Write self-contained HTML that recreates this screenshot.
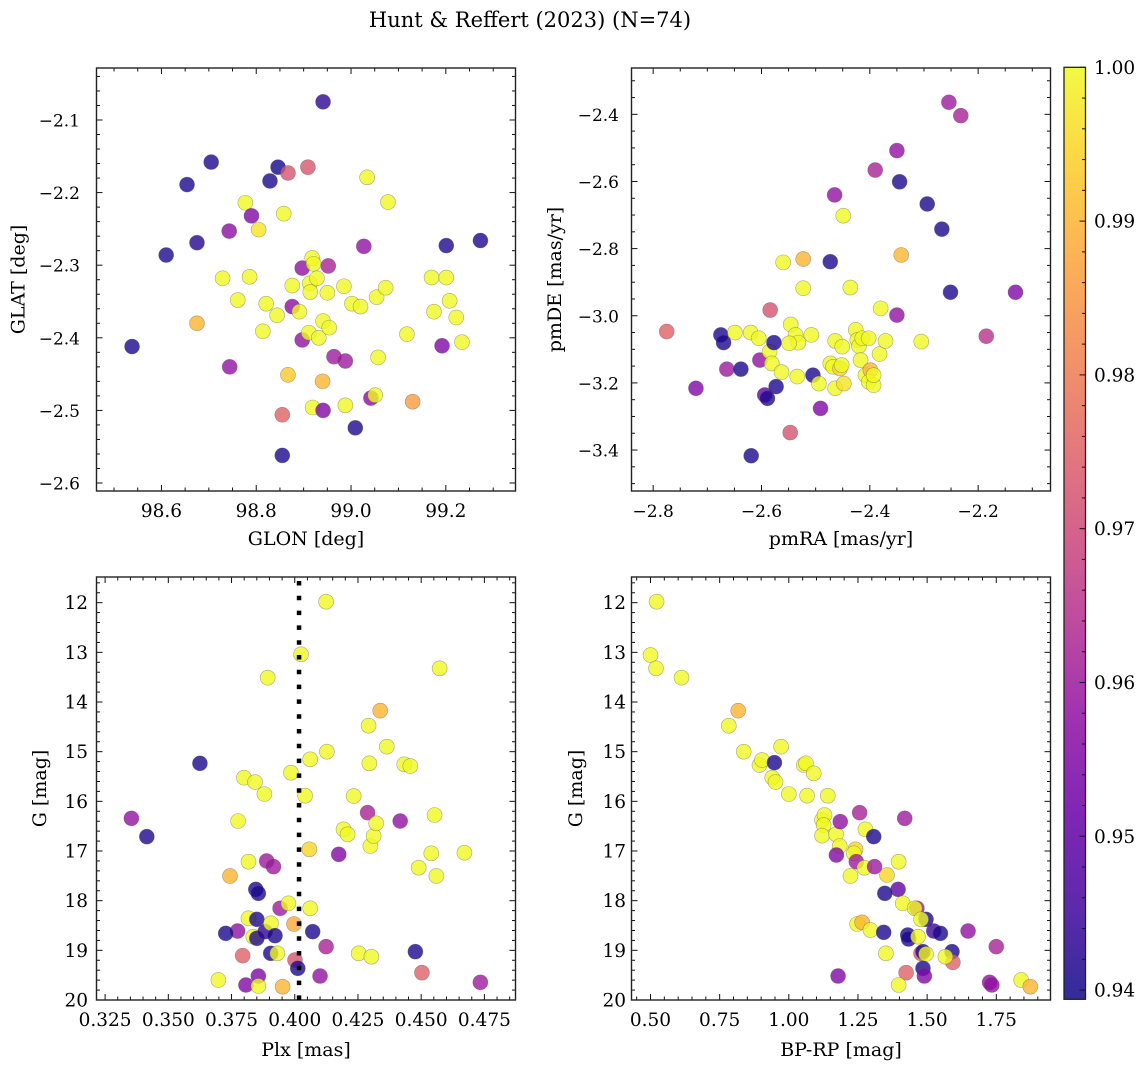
<!DOCTYPE html>
<html><head><meta charset="utf-8"><title>Hunt & Reffert (2023)</title>
<style>
html,body{margin:0;padding:0;background:#fff;}
svg{display:block;font-family:"DejaVu Serif","Liberation Serif",serif;}
</style></head>
<body>
<svg id="fig" width="1148" height="1067" viewBox="0 0 1148 1067" xmlns="http://www.w3.org/2000/svg">
<defs>
<linearGradient id="plasmaGrad" x1="0" y1="1" x2="0" y2="0">
<stop offset="0" stop-color="#0d0887"/><stop offset="0.1" stop-color="#41049d"/><stop offset="0.2" stop-color="#6a00a8"/><stop offset="0.3" stop-color="#8f0da4"/><stop offset="0.4" stop-color="#b12a90"/><stop offset="0.5" stop-color="#cc4778"/><stop offset="0.6" stop-color="#e16462"/><stop offset="0.7" stop-color="#f2844b"/><stop offset="0.8" stop-color="#fca636"/><stop offset="0.9" stop-color="#fcce25"/><stop offset="1" stop-color="#f0f921"/>
</linearGradient>
</defs>
<text x="530" y="27" text-anchor="middle" font-size="21">Hunt &amp; Reffert (2023) (N=74)</text>
</svg>
<script>
// ---------- data: panel 1 (GLON vs GLAT) ----------
const p1Glon = [98.538,98.610,98.654,98.675,98.705,98.675,98.729,98.743,98.744,98.761,98.777,98.786,98.790,98.805,98.814,98.821,98.829,98.846,98.844,98.858,98.855,98.855,98.867,98.867,98.876,98.876,98.891,98.897,98.897,98.909,98.911,98.913,98.914,98.918,98.921,98.928,98.919,98.932,98.941,98.940,98.941,98.941,98.950,98.952,98.954,98.964,98.985,98.988,98.988,99.002,99.009,99.020,99.027,99.034,99.042,99.051,99.054,99.057,99.073,99.078,99.118,99.130,99.170,99.175,99.192,99.201,99.201,99.208,99.222,99.234,99.273];
const p1Glat = [-2.412,-2.286,-2.189,-2.269,-2.158,-2.380,-2.318,-2.253,-2.440,-2.348,-2.214,-2.316,-2.232,-2.251,-2.391,-2.353,-2.184,-2.165,-2.369,-2.229,-2.506,-2.562,-2.173,-2.451,-2.328,-2.357,-2.364,-2.304,-2.403,-2.165,-2.393,-2.325,-2.337,-2.290,-2.298,-2.318,-2.496,-2.400,-2.075,-2.460,-2.377,-2.500,-2.338,-2.301,-2.386,-2.426,-2.329,-2.432,-2.493,-2.353,-2.524,-2.357,-2.274,-2.179,-2.483,-2.479,-2.344,-2.427,-2.331,-2.213,-2.395,-2.488,-2.317,-2.364,-2.411,-2.273,-2.317,-2.349,-2.372,-2.406,-2.266];
const p1Prob = [.941,.941,.941,.942,.941,.99,1,.957,.958,1,1,1,.955,.997,1,1,.941,.940,1,1,.975,.941,.972,.993,1,.957,1,.958,.958,.973,1,1,1,1,1,1,1,1,.943,.99,1,.955,1,.962,1,.960,1,.960,1,1,.941,1,.958,1,.957,1,1,1,1,1,1,.986,1,1,.955,.941,1,1,1,1,.941];
// ---------- data: panel 2 (pmRA vs pmDE) ----------
const p2PmRA = [-2.775,-2.721,-2.675,-2.670,-2.664,-2.649,-2.638,-2.620,-2.605,-2.619,-2.603,-2.594,-2.589,-2.584,-2.585,-2.581,-2.577,-2.573,-2.563,-2.560,-2.546,-2.537,-2.532,-2.549,-2.534,-2.523,-2.523,-2.547,-2.508,-2.505,-2.494,-2.491,-2.473,-2.465,-2.449,-2.436,-2.473,-2.468,-2.464,-2.464,-2.455,-2.452,-2.451,-2.448,-2.426,-2.423,-2.420,-2.417,-2.414,-2.402,-2.408,-2.399,-2.402,-2.393,-2.393,-2.380,-2.382,-2.371,-2.350,-2.390,-2.345,-2.350,-2.342,-2.305,-2.294,-2.267,-2.251,-2.254,-2.232,-2.185,-2.131];
const p2PmDE = [-3.047,-3.216,-3.057,-3.080,-3.159,-3.050,-3.159,-3.050,-3.067,-3.417,-3.132,-3.236,-3.246,-2.983,-3.107,-3.142,-3.080,-3.211,-3.168,-2.841,-3.026,-3.057,-3.080,-3.082,-3.181,-2.831,-2.918,-3.348,-3.057,-3.177,-3.202,-3.276,-2.839,-2.640,-2.702,-2.916,-3.142,-3.152,-3.075,-3.216,-3.157,-3.147,-3.092,-3.202,-3.042,-3.072,-3.090,-3.132,-3.067,-3.067,-3.177,-3.162,-3.197,-3.207,-3.177,-2.978,-3.114,-3.075,-2.508,-2.566,-2.601,-2.998,-2.819,-3.077,-2.667,-2.742,-2.930,-2.364,-2.404,-3.061,-2.930];
const p2Prob = [.975,.955,.941,.941,.960,1,.941,1,1,.941,.958,.950,.941,.972,1,1,.941,.941,1,1,1,1,1,1,1,.99,1,.972,1,.941,1,.955,.941,.958,1,1,1,1,1,1,.995,1,1,.997,1,1,1,1,1,1,1,.99,1,1,1,1,1,1,.958,.962,.941,.958,.99,1,.941,.941,.941,.960,.962,.965,.955];
// ---------- data: panel 3 (Plx vs G) ----------
const p3Plx = [0.3354,0.3415,0.3625,0.3698,0.3744,0.3776,0.3774,0.3727,0.3799,0.3794,0.3807,0.3817,0.3817,0.3836,0.3843,0.3846,0.3856,0.3850,0.3850,0.3856,0.3856,0.3880,0.3889,0.3883,0.3893,0.3916,0.3906,0.3905,0.3922,0.3931,0.3942,0.3952,0.3975,0.3985,0.3997,0.4001,0.4012,0.4025,0.4041,0.4058,0.4061,0.4061,0.4071,0.4100,0.4124,0.4127,0.4124,0.4174,0.4193,0.4209,0.4233,0.4253,0.4288,0.4292,0.4295,0.4299,0.4303,0.4312,0.4322,0.4338,0.4364,0.4417,0.4433,0.4457,0.4477,0.4490,0.4503,0.4540,0.4553,0.4560,0.4573,0.4671,0.4734];
const p3G = [16.342,16.711,15.235,19.597,17.503,16.396,18.611,18.658,15.523,19.107,19.698,17.215,18.356,18.725,15.611,17.772,17.852,18.376,18.758,19.517,19.718,15.852,17.201,18.624,13.510,17.315,18.456,19.060,18.705,19.060,18.154,19.732,18.054,15.423,18.470,19.195,19.362,13.040,15.886,16.966,15.154,18.154,18.624,19.517,11.98,15.000,18.926,17.067,16.564,16.664,15.893,19.060,16.228,14.477,15.235,16.899,19.128,16.698,16.443,14.174,14.899,16.396,15.255,15.289,19.027,17.336,19.450,17.047,16.275,17.503,13.322,17.034,19.644];
const p3Prob = [.958,.941,.941,1,.99,1,.958,.941,1,.975,.955,1,1,1,1,.941,.941,.941,.941,.955,1,1,.960,.943,1,.960,1,.941,.941,1,.960,.99,1,1,.988,.972,.941,1,1,.995,1,1,.941,.958,1,1,.962,.955,1,1,1,1,.962,1,1,1,1,1,1,.99,1,.958,1,1,.941,1,.975,1,1,1,1,1,.960];
// ---------- data: panel 4 (BP-RP vs G) ----------
const p4Bprp = [0.522,0.500,0.520,0.612,0.817,0.783,0.837,0.894,0.903,0.948,0.972,0.940,0.952,1.000,1.054,1.062,1.090,1.066,1.141,1.120,1.129,1.126,1.120,1.171,1.186,1.184,1.172,1.256,1.277,1.307,1.241,1.235,1.244,1.273,1.310,1.223,1.355,1.397,1.395,1.347,1.419,1.412,1.463,1.455,1.496,1.478,1.247,1.265,1.295,1.343,1.430,1.433,1.467,1.524,1.548,1.648,1.750,1.351,1.478,1.485,1.496,1.590,1.593,1.566,1.485,1.490,1.424,1.178,1.397,1.726,1.734,1.840,1.873];
const p4G = [11.98,13.054,13.322,13.510,14.174,14.477,15.000,15.268,15.168,15.221,14.899,15.523,15.611,15.852,15.268,15.235,15.436,15.886,15.886,16.376,16.275,16.477,16.691,16.664,16.409,16.899,17.081,16.228,16.564,16.711,16.966,17.047,17.215,17.336,17.315,17.503,17.483,17.215,17.772,17.852,16.342,18.054,18.154,18.154,18.376,18.376,18.470,18.436,18.591,18.638,18.691,18.772,18.725,18.611,18.658,18.611,18.926,19.060,19.060,19.027,19.074,19.027,19.242,19.128,19.362,19.517,19.450,19.517,19.698,19.644,19.698,19.597,19.732];
const p4Prob = [1,1,1,1,.99,1,1,1,1,.941,1,1,1,1,1,1,1,1,1,1,1,1,1,1,.958,1,.955,.962,1,.941,.995,1,.960,1,.960,1,.995,1,.950,.941,.960,1,.960,1,.941,1,1,.99,1,.941,.941,.941,1,.945,.941,.958,.962,1,.972,.941,1,.941,.975,1,.941,.955,.975,.955,1,.958,.958,1,.99];
// ---------- tick label arrays ----------
const p1XTicks = [98.6,98.8,99.0,99.2];
const p1XLabels = ["98.6","98.8","99.0","99.2"];
const p1YTicks = [-2.1,-2.2,-2.3,-2.4,-2.5,-2.6];
const p1YLabels = ["\u22122.1","\u22122.2","\u22122.3","\u22122.4","\u22122.5","\u22122.6"];
const p2XTicks = [-2.8,-2.6,-2.4,-2.2];
const p2XLabels = ["\u22122.8","\u22122.6","\u22122.4","\u22122.2"];
const p2YTicks = [-2.4,-2.6,-2.8,-3.0,-3.2,-3.4];
const p2YLabels = ["\u22122.4","\u22122.6","\u22122.8","\u22123.0","\u22123.2","\u22123.4"];
const p3XTicks = [0.325,0.350,0.375,0.400,0.425,0.450,0.475];
const p3XLabels = ["0.325","0.350","0.375","0.400","0.425","0.450","0.475"];
const gTicks = [12,13,14,15,16,17,18,19,20];
const gLabels = ["12","13","14","15","16","17","18","19","20"];
const p4XTicks = [0.5,0.75,1.0,1.25,1.5,1.75];
const p4XLabels = ["0.50","0.75","1.00","1.25","1.50","1.75"];
const cbTicks = [0.94,0.95,0.96,0.97,0.98,0.99,1.00];
const cbLabels = ["0.94","0.95","0.96","0.97","0.98","0.99","1.00"];
const plxLine = [0.4017];

const NS = "http://www.w3.org/2000/svg";
const svg = document.getElementById('fig');
const VMIN = 0.9394, VMAX = 1.0;
const stops = [[13,8,135],[65,4,157],[106,0,168],[143,13,164],[177,42,144],[204,71,120],[225,100,98],[242,132,75],[252,166,54],[252,206,37],[240,249,33]];
function plasma(v){
  let t = (v - VMIN)/(VMAX - VMIN); t = Math.max(0, Math.min(1, t));
  const f = t*10, i = Math.min(9, Math.floor(f)), r = f - i;
  const a = stops[i], b = stops[i+1];
  return 'rgb(' + [0,1,2].map(k => Math.round(a[k] + (b[k]-a[k])*r)).join(',') + ')';
}
function mk(tag, attrs, parent){
  const e = document.createElementNS(NS, tag);
  for (const k in attrs) e.setAttribute(k, attrs[k]);
  (parent || svg).appendChild(e);
  return e;
}
function fmtNum(v){ return Math.round(v*1e6)/1e6; }
function fsFor(s){ return s.indexOf('\u2212') >= 0 ? 17 : 18.5; }

function panel(name, box, xd, yd, xTicks, xLabels, xMinor, yTicks, yLabels, yMinor, xs, ys, cs, xTitle, yTitle, yLabEnd, yTitleX, xTitleY){
  const g = mk('g', {});
  
  
  const sx = v => box.x0 + (v - xd[0])/(xd[1]-xd[0])*(box.x1-box.x0);
  const sy = v => box.y0 + (v - yd[0])/(yd[1]-yd[0])*(box.y1-box.y0);
  const pg = mk('g', {}, g);
  
  
  for (let i = 0; i < xs.length; i++){
    const c = mk('circle', {cx: sx(xs[i]), cy: sy(ys[i]), r: 7.5, fill: plasma(cs[i]), 'fill-opacity': 0.8, stroke: '#555', 'stroke-opacity': 0.5, 'stroke-width': 0.6}, pg);
    
    
  }
  const tk = mk('g', {stroke: '#111', 'stroke-width': 1}, g);
  const xlo = Math.min(xd[0],xd[1]), xhi = Math.max(xd[0],xd[1]);
  const ylo = Math.min(yd[0],yd[1]), yhi = Math.max(yd[0],yd[1]);
  for (let v = Math.ceil(xlo/xMinor)*xMinor; v <= xhi + 1e-9; v += xMinor){
    const px = sx(fmtNum(v));
    const isMajor = xTicks.some(t => Math.abs(t - v) < xMinor*0.01);
    const L = isMajor ? 6 : 3.5;
    mk('line', {x1: px, x2: px, y1: box.y1, y2: box.y1 - L}, tk);
    mk('line', {x1: px, x2: px, y1: box.y0, y2: box.y0 + L}, tk);
  }
  for (let v = Math.ceil(ylo/yMinor)*yMinor; v <= yhi + 1e-9; v += yMinor){
    const py = sy(fmtNum(v));
    const isMajor = yTicks.some(t => Math.abs(t - v) < yMinor*0.01);
    const L = isMajor ? 6 : 3.5;
    mk('line', {x1: box.x0, x2: box.x0 + L, y1: py, y2: py}, tk);
    mk('line', {x1: box.x1, x2: box.x1 - L, y1: py, y2: py}, tk);
  }
  mk('rect', {x: box.x0, y: box.y0, width: box.x1-box.x0, height: box.y1-box.y0, fill: 'none', stroke: '#222', 'stroke-width': 1.4}, g);
  for (let i = 0; i < xTicks.length; i++){
    const t = mk('text', {x: sx(xTicks[i]), y: box.y1 + 26, 'text-anchor': 'middle', 'font-size': fsFor(xLabels[i])}, g);
    
    
    t.textContent = xLabels[i];
  }
  for (let i = 0; i < yTicks.length; i++){
    const t = mk('text', {x: yLabEnd, y: sy(yTicks[i]) + 6.5, 'text-anchor': 'end', 'font-size': fsFor(yLabels[i])}, g);
    
    
    t.textContent = yLabels[i];
  }
  const xt = mk('text', {x: (box.x0+box.x1)/2, y: xTitleY, 'text-anchor': 'middle', 'font-size': 19}, g);
  
  
  xt.textContent = xTitle;
  const cy = (box.y0+box.y1)/2;
  const yt = mk('text', {x: yTitleX, y: cy, 'text-anchor': 'middle', 'font-size': 19, transform: 'rotate(-90 ' + yTitleX + ' ' + cy + ')', 'dominant-baseline': 'central'}, g);
  
  
  yt.textContent = yTitle;
  return {sx, sy, g};
}

const b1 = {x0: 96.5, x1: 515.5, y0: 68, y1: 491};
const b2 = {x0: 631.5, x1: 1050.5, y0: 68, y1: 491};
const b3 = {x0: 96.5, x1: 515.5, y0: 577, y1: 1000};
const b4 = {x0: 631.5, x1: 1050.5, y0: 577, y1: 1000};

panel('panel-glon-glat', b1, [98.463, 99.347], [-2.0284, -2.611], p1XTicks, p1XLabels, 0.05, p1YTicks, p1YLabels, 0.02, p1Glon, p1Glat, p1Prob, 'GLON [deg]', 'GLAT [deg]', 80, 18.5, 545);
panel('panel-pm', b2, [-2.840, -2.0664], [-2.262, -3.522], p2XTicks, p2XLabels, 0.05, p2YTicks, p2YLabels, 0.05, p2PmRA, p2PmDE, p2Prob, 'pmRA [mas/yr]', 'pmDE [mas/yr]', 619, 555, 545);
const P3 = panel('panel-plx-g', b3, [0.3216, 0.4873], [11.483, 20.0], p3XTicks, p3XLabels, 0.005, gTicks, gLabels, 0.2, p3Plx, p3G, p3Prob, 'Plx [mas]', 'G [mag]', 88, 40, 1056);
panel('panel-cmd', b4, [0.4313, 1.946], [11.483, 20.0], p4XTicks, p4XLabels, 0.05, gTicks, gLabels, 0.2, p4Bprp, p4G, p4Prob, 'BP-RP [mag]', 'G [mag]', 626, 576, 1056);

const dl = mk('line', {x1: P3.sx(plxLine[0]), x2: P3.sx(plxLine[0]), y1: 581, y2: 1000, stroke: '#000', 'stroke-width': 4.5, 'stroke-dasharray': '4.5 10.3'});



const cb = {x0: 1064, x1: 1085.5, y0: 67.3, y1: 999.3};
const cg = mk('g', {});


mk('rect', {x: cb.x0, y: cb.y0, width: cb.x1-cb.x0, height: cb.y1-cb.y0, fill: 'url(#plasmaGrad)', 'fill-opacity': 0.85}, cg);
const cy = v => cb.y1 - (v - VMIN)/(VMAX - VMIN)*(cb.y1 - cb.y0);
for (let v = 0.940; v <= 1.0 + 1e-9; v += 0.002){
  const vv = fmtNum(v);
  const isMajor = cbTicks.some(t => Math.abs(t - vv) < 1e-5);
  mk('line', {x1: cb.x1, x2: cb.x1 - (isMajor ? 6 : 3.5), y1: cy(vv), y2: cy(vv), stroke: '#111', 'stroke-width': 1}, cg);
}
mk('rect', {x: cb.x0, y: cb.y0, width: cb.x1-cb.x0, height: cb.y1-cb.y0, fill: 'none', stroke: '#222', 'stroke-width': 1.3}, cg);
for (let i = 0; i < cbTicks.length; i++){
  const t = mk('text', {x: 1094, y: cy(cbTicks[i]) + 6.5, 'font-size': 18.5}, cg);
  
  
  t.textContent = cbLabels[i];
}
</script>
</body></html>
